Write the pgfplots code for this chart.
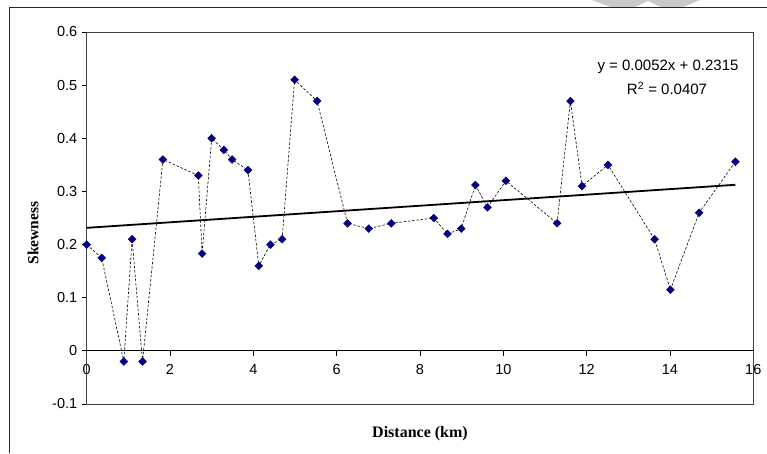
\documentclass[border=0pt]{standalone}
\usepackage{pgfplots}
\pgfplotsset{compat=1.18}
\usepackage{fontspec}
\setmainfont{Liberation Sans}
\newfontfamily\seriffont{Liberation Serif}
\definecolor{navy}{HTML}{000080}
\definecolor{wm}{HTML}{C9C9C9}
\begin{document}
\begin{tikzpicture}[x=1pt,y=1pt]
\path[use as bounding box] (0,0) rectangle (767,453);
% watermark fragment
\fill[wm] (592,453) -- (700,453) -- (681,445) -- (663,445) -- (648,452) -- (633,445) -- (613,445) -- cycle;
% outer frame (partially visible)
\draw[line width=1pt, black!85] (9,0) -- (9,445) -- (767,445);
% zero line with x ticks
\begin{axis}[
  at={(86.7pt,49pt)}, anchor=south west,
  scale only axis, width=666.6pt, height=372pt,
  xmin=0, xmax=16, ymin=-0.1, ymax=0.6,
  axis x line=middle, axis y line=none,
  axis line style={-, line width=0.9pt, black},
  xtick={0,2,4,6,8,10,12,14,16},
  xticklabels={0,2,4,6,8,10,12,14,16},
  tick align=outside, major tick length=5pt,
  tick style={line width=0.8pt, black},
  xticklabel style={font=\fontsize{14.5}{16}\selectfont, anchor=north, yshift=-5pt},
]
\addplot[draw=none, forget plot] coordinates {(0,0)};
\end{axis}
% main box axis with data
\begin{axis}[
  at={(86.7pt,49pt)}, anchor=south west,
  scale only axis, width=666.6pt, height=372pt,
  xmin=0, xmax=16, ymin=-0.1, ymax=0.6,
  xtick=\empty,
  ytick={-0.1,0,0.1,0.2,0.3,0.4,0.5,0.6},
  yticklabels={-0.1,0,0.1,0.2,0.3,0.4,0.5,0.6},
  ytick pos=left, tick align=outside, major tick length=5pt,
  tick style={line width=0.8pt, black},
  yticklabel style={font=\fontsize{14.5}{16}\selectfont, xshift=-1pt},
  axis line style={line width=0.9pt, black!75},
  clip=false,
]
\addplot[black, dash pattern=on 2.5pt off 1.8pt, line width=0.6pt,
  mark=square*, mark size=2.7pt, mark options={solid, fill=navy, draw=navy, rotate=45}]
coordinates {
(0,0.2) (0.36,0.175) (0.89,-0.02) (1.09,0.21) (1.34,-0.02) (1.83,0.36)
(2.68,0.33) (2.77,0.183) (3.0,0.4) (3.29,0.378) (3.49,0.36) (3.87,0.34)
(4.13,0.16) (4.41,0.2) (4.69,0.21) (4.99,0.51) (5.53,0.47) (6.26,0.24)
(6.77,0.23) (7.31,0.24) (8.33,0.25) (8.66,0.22) (8.99,0.23) (9.33,0.312)
(9.62,0.27) (10.06,0.32) (11.29,0.24) (11.61,0.47) (11.89,0.31) (12.51,0.35)
(13.63,0.21) (14.01,0.115) (14.70,0.26) (15.57,0.356)
};
\addplot[black, line width=1.8pt, mark=none] coordinates {(0,0.2315) (15.57,0.3125)};
\end{axis}
% trendline equation
\node[font=\fontsize{15}{17}\selectfont] at (668,386) {y = 0.0052x + 0.2315};
\node[font=\fontsize{15}{17}\selectfont] at (667,364.5) {R\textsuperscript{2} = 0.0407};
% axis titles
\node[font=\seriffont\bfseries\fontsize{16}{18}\selectfont, anchor=base] at (420,15.3) {Distance (km)};
\node[font=\seriffont\bfseries\fontsize{15.5}{18}\selectfont, rotate=90] at (33,220) {Skewness};
\end{tikzpicture}
\end{document}
